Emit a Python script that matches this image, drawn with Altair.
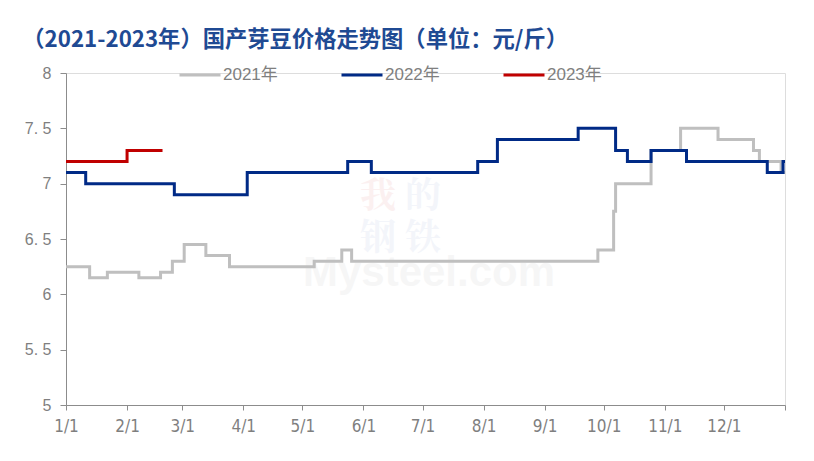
import altair as alt
import pandas as pd

# ---- data ----
dates_2021 = ["2022-01-01", "2022-01-13", "2022-01-22", "2022-02-07", "2022-02-18",
              "2022-02-24", "2022-03-02", "2022-03-13", "2022-03-25", "2022-05-07",
              "2022-05-21", "2022-05-26", "2022-09-28", "2022-10-06", "2022-10-07",
              "2022-10-25", "2022-11-09", "2022-11-28", "2022-12-16", "2022-12-19",
              "2022-12-30", "2023-01-01"]
vals_2021 = [6.25, 6.15, 6.2, 6.15, 6.2,
             6.3, 6.45, 6.35, 6.25, 6.3,
             6.4, 6.3, 6.4, 6.75, 7.0,
             7.3, 7.5, 7.4, 7.3, 7.2,
             7.1, 7.1]

dates_2022 = ["2022-01-01", "2022-01-11", "2022-02-25", "2022-04-03", "2022-05-24",
              "2022-06-05", "2022-07-29", "2022-08-08", "2022-09-18", "2022-10-07",
              "2022-10-13", "2022-10-25", "2022-11-12", "2022-12-23", "2022-12-31",
              "2023-01-01"]
vals_2022 = [7.1, 7.0, 6.9, 7.1, 7.2,
             7.1, 7.2, 7.4, 7.5, 7.3,
             7.2, 7.3, 7.2, 7.1, 7.2,
             7.2]

dates_2023 = ["2022-01-01", "2022-02-01", "2022-02-19"]
vals_2023 = [7.2, 7.3, 7.3]

series_names = ["2021年", "2022年", "2023年"]
series_colors = ["#BFBFBF", "#002A86", "#C00000"]

title_text = "（2021-2023年）国产芽豆价格走势图（单位：元/斤）"
y_ticks = [5, 5.5, 6, 6.5, 7, 7.5, 8]

rows = []
for name, ds, vs in zip(series_names, [dates_2021, dates_2022, dates_2023],
                        [vals_2021, vals_2022, vals_2023]):
    for d, v in zip(ds, vs):
        rows.append({"date": d, "price": v, "series": name})
df = pd.DataFrame(rows)

# faint watermark (decoration)
wm_text = pd.DataFrame({"t": ["Mysteel.com"]})
wm_red = pd.DataFrame({"t": ["我"], "px": [312], "py": [124]})
wm_blue = pd.DataFrame({"t": ["的", "钢", "铁"], "px": [357, 312, 357], "py": [124, 166, 166]})

x_ticks = [alt.DateTime(year=2022, month=m, date=1, utc=True) for m in range(1, 13)]
x_ticks.append(alt.DateTime(year=2023, month=1, date=1, utc=True))

axis_gray = "#8C8C8C"
label_gray = "#7F7F7F"

x_enc = alt.X(
    "date:T",
    scale=alt.Scale(type="utc",
                    domain=[alt.DateTime(year=2022, month=1, date=1, utc=True),
                            alt.DateTime(year=2023, month=1, date=1, utc=True)]),
    axis=alt.Axis(
        values=x_ticks,
        labelExpr="utcyear(datum.value) == 2023 ? '' : utcFormat(datum.value, '%-m/%-d')",
        title=None, grid=False, domainColor=axis_gray, tickColor=axis_gray,
        tickSize=5, labelPadding=8, labelColor=label_gray, labelFontSize=17,
        labelFont="Liberation Sans Narrow, DejaVu Sans Condensed, sans-serif",
        labelFlush=False, labelOverlap=False,
    ),
)
y_enc = alt.Y(
    "price:Q",
    scale=alt.Scale(domain=[5, 8], nice=False, zero=False),
    axis=alt.Axis(
        values=y_ticks, labelExpr="replace(toString(datum.value), '.', '. ')",
        title=None, grid=False, domainColor=axis_gray, tickColor=axis_gray,
        tickSize=6, labelPadding=9, labelColor=label_gray, labelFontSize=16,
        labelFont="Liberation Sans, Noto Sans, sans-serif",
    ),
)

lines = alt.Chart(df).mark_line(interpolate="step-after", strokeWidth=3).encode(
    x=x_enc,
    y=y_enc,
    color=alt.Color(
        "series:N",
        scale=alt.Scale(domain=series_names, range=series_colors),
        legend=alt.Legend(
            orient="none", legendX=112, legendY=-20, direction="horizontal",
            symbolType="stroke", symbolSize=1681, symbolStrokeWidth=3,
            labelFontSize=17, labelColor=label_gray, labelOffset=1,
            labelFont="Liberation Sans, Noto Sans CJK SC, sans-serif",
            columnPadding=57, title=None, padding=0,
        ),
    ),
)

watermark = alt.Chart(wm_text).mark_text(
    fontSize=42, font="Liberation Sans, sans-serif", color="#000000", opacity=0.03,
    fontWeight="bold",
).encode(x=alt.value(363), y=alt.value(200), text="t:N")

wm_r = alt.Chart(wm_red).mark_text(
    fontSize=36, font="Noto Serif CJK SC, Noto Sans CJK SC", opacity=0.07,
    fontWeight="bold", color="#D04040",
).encode(x=alt.X("px:Q", scale=None), y=alt.Y("py:Q", scale=None), text="t:N")

wm_b = alt.Chart(wm_blue).mark_text(
    fontSize=36, font="Noto Serif CJK SC, Noto Sans CJK SC", opacity=0.06,
    fontWeight="bold", color="#4060B0",
).encode(x=alt.X("px:Q", scale=None), y=alt.Y("py:Q", scale=None), text="t:N")

chart = alt.layer(watermark, wm_r, wm_b, lines).properties(
    width=719, height=332,
    title=alt.TitleParams(
        text=title_text, anchor="start", dx=-2, fontSize=22.3,
        font="Noto Sans CJK SC", fontWeight="bold", color="#1F4A93", offset=2,
    ),
    autosize=alt.AutoSizeParams(type="none"),
    padding={"left": 58, "top": 65, "right": 10, "bottom": 48},
).configure_view(stroke=None).configure(background="white")

chart.save("out.html", embed_options={"renderer": "svg", "actions": False})
